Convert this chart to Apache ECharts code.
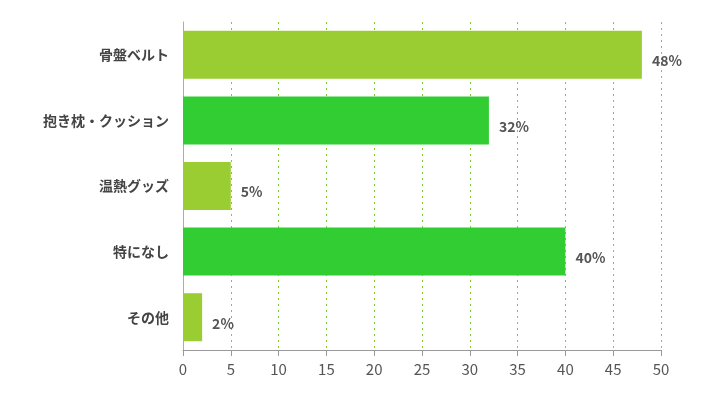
<!DOCTYPE html>
<html><head><meta charset="utf-8">
<script src="https://cdn.jsdelivr.net/npm/echarts@6/dist/echarts.min.js"></script>
<style>html,body{margin:0;padding:0;background:#fff}#c{width:710px;height:405px}</style>
</head><body><div id="c"></div>
<script>
const categories = ['骨盤ベルト','抱き枕・クッション','温熱グッズ','特になし','その他'];
const values = [48, 32, 5, 40, 2];
const colors = ['#9acd32','#32cd32','#9acd32','#32cd32','#9acd32'];
const chart = echarts.init(document.getElementById('c'));
chart.setOption({
  animation:false,
  grid:{left:183,right:49,top:22,bottom:55},
  xAxis:{type:'value',min:0,max:50,interval:5,
    axisLine:{show:true,lineStyle:{color:'#999'}},
    axisTick:{show:true,length:6,lineStyle:{color:'#999'}},
    axisLabel:{color:'#555',fontSize:15,fontFamily:'Noto Sans CJK JP',margin:12},
    splitLine:{show:true,lineStyle:{color:'#7ccd32',type:[2,4],width:1}}},
  yAxis:{type:'category',inverse:true,data:categories,
    axisLine:{show:true,lineStyle:{color:'#9acd32'}},
    axisTick:{show:false},
    axisLabel:{color:'#444',fontSize:14,fontWeight:'bold',fontFamily:'Noto Sans CJK JP',margin:14}},
  series:[{type:'bar',barWidth:48,
    data:values.map((v,i)=>({value:v,itemStyle:{color:colors[i]}})),
    label:{show:true,position:'right',formatter:'{c}%',color:'#555',fontSize:14,fontWeight:'bold',fontFamily:'Noto Sans CJK JP',distance:10,offset:[0,6]}}]
});
</script></body></html>
